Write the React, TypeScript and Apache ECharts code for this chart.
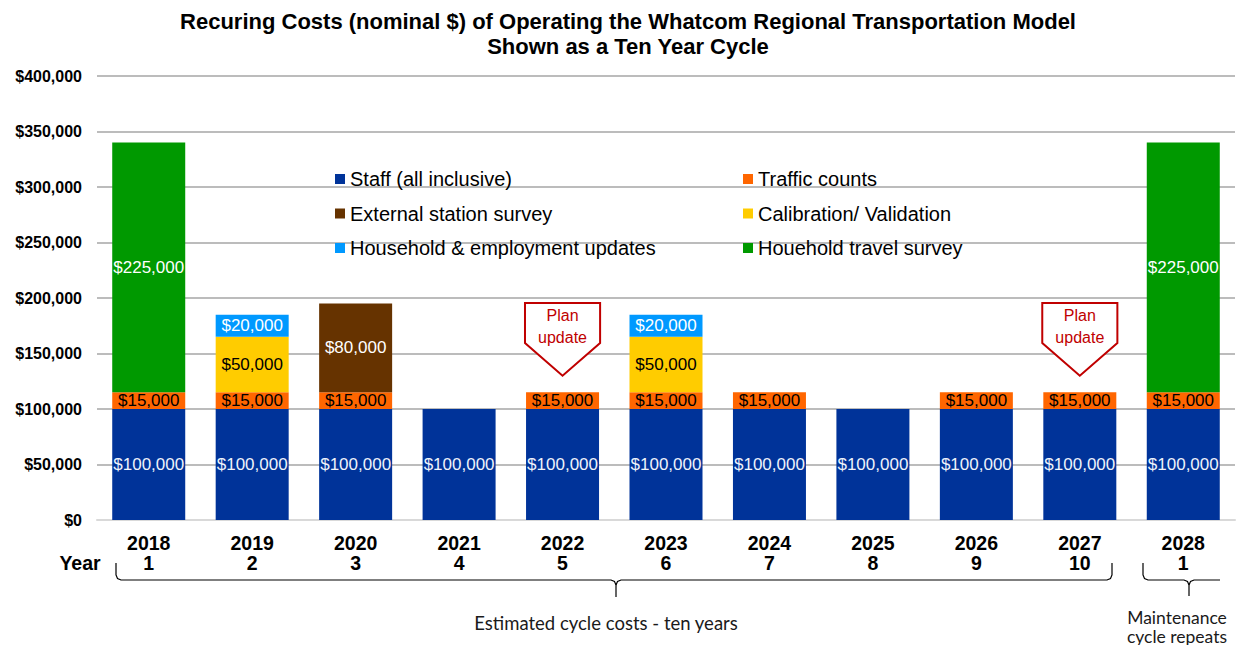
import React, { useEffect, useRef } from "react";
import * as echarts from "echarts";

const years = ["2018", "2019", "2020", "2021", "2022", "2023", "2024", "2025", "2026", "2027", "2028"];
const cycleYears = ["1", "2", "3", "4", "5", "6", "7", "8", "9", "10", "1"];

const staff = [100000, 100000, 100000, 100000, 100000, 100000, 100000, 100000, 100000, 100000, 100000];
const traffic = [15000, 15000, 15000, null, 15000, 15000, 15000, null, 15000, 15000, 15000];
const externalSurvey = [null, null, 80000, null, null, null, null, null, null, null, null];
const calibration = [null, 50000, null, null, null, 50000, null, null, null, null, null];
const hhUpdates = [null, 20000, null, null, null, 20000, null, null, null, null, null];
const travelSurvey = [225000, null, null, null, null, null, null, null, null, null, 225000];

const planUpdateYears = ["2022", "2027"];

const FONT = "'Liberation Sans', Arial, sans-serif";
const CAL = "Lato, 'Open Sans', sans-serif";

const fmt = (v: any) => (v == null || v === "-" ? "" : "$" + Number(v).toLocaleString("en-US"));

function barSeries(name: string, data: (number | null)[], color: string, labelColor: string) {
  return {
    name,
    type: "bar",
    stack: "total",
    barWidth: 73,
    data,
    itemStyle: { color },
    label: {
      show: true,
      position: "inside",
      formatter: (p: any) => fmt(p.value),
      color: labelColor,
      fontSize: 17,
      fontFamily: FONT,
    },
    emphasis: { disabled: true },
  };
}

export default function App() {
  const ref = useRef<HTMLDivElement>(null);
  useEffect(() => {
    if (!ref.current) return;
    const chart = echarts.init(ref.current, null, { renderer: "svg" });
    const legendCommon = {
      orient: "vertical",
      top: 169,
      itemWidth: 10,
      itemHeight: 10,
      itemGap: 14.5,
      icon: "rect",
      selectedMode: false,
      textStyle: { fontSize: 20, lineHeight: 20, color: "#000", fontFamily: FONT },
      padding: 0,
    };
    chart.setOption({
      animation: false,
      legend: [
        { ...legendCommon, left: 335, data: ["Staff (all inclusive)", "External station survey", "Household & employment updates"] },
        { ...legendCommon, left: 743, data: ["Traffic counts", "Calibration/ Validation", "Houehold travel survey"] },
      ],
      grid: { left: 97, right: 2, top: 76, bottom: 125, containLabel: false },
      xAxis: {
        type: "category",
        data: years,
        axisTick: { show: false },
        axisLine: { lineStyle: { color: "#D9D9D9", width: 2 } },
        axisLabel: {
          interval: 0,
          margin: 13,
          formatter: (v: string, i: number) => v + "\n" + cycleYears[i],
          fontSize: 19.5,
          fontWeight: "bold",
          lineHeight: 20,
          color: "#000",
          fontFamily: FONT,
        },
      },
      yAxis: {
        type: "value",
        min: 0,
        max: 400000,
        interval: 50000,
        axisLine: { show: false },
        axisTick: { show: false },
        splitLine: { lineStyle: { color: "#A6A6A6", width: 1.5 } },
        axisLabel: {
          margin: 15,
          formatter: (v: number) => "$" + v.toLocaleString("en-US"),
          fontSize: 16,
          fontWeight: "bold",
          color: "#000",
          fontFamily: FONT,
        },
      },
      series: [
        barSeries("Staff (all inclusive)", staff, "#003399", "#EEF2FA"),
        barSeries("Traffic counts", traffic, "#FF6600", "#000"),
        barSeries("External station survey", externalSurvey, "#663300", "#FFFFFF"),
        barSeries("Calibration/ Validation", calibration, "#FFCC00", "#000"),
        barSeries("Household & employment updates", hhUpdates, "#0099FF", "#FFFFFF"),
        barSeries("Houehold travel survey", travelSurvey, "#009900", "#FFFFFF"),
        {
          name: "Plan update",
          type: "custom",
          z: 10,
          data: planUpdateYears.map((y) => [years.indexOf(y), 0]),
          encode: { x: 0, y: 1 },
          renderItem: (params: any, api: any) => {
            const idx = api.value(0);
            const top = api.coord([idx, 195500]);
            const shoulder = api.coord([idx, 159500]);
            const tip = api.coord([idx, 130000]);
            const hw = api.size([1, 0])[0] * 0.363;
            const cx = top[0];
            return {
              type: "group",
              children: [
                {
                  type: "polygon",
                  shape: {
                    points: [
                      [cx - hw, top[1]],
                      [cx + hw, top[1]],
                      [cx + hw, shoulder[1]],
                      [cx, tip[1]],
                      [cx - hw, shoulder[1]],
                    ],
                  },
                  style: { fill: "#FFFFFF", stroke: "#C00000", lineWidth: 2 },
                },
                {
                  type: "text",
                  x: cx,
                  y: top[1] + 2,
                  style: {
                    text: "Plan\nupdate",
                    textAlign: "center",
                    textVerticalAlign: "top",
                    fontSize: 16,
                    lineHeight: 22,
                    fontFamily: FONT,
                    fill: "#C00000",
                  },
                },
              ],
            };
          },
        },
      ],
      graphic: [
        {
          type: "text",
          x: 628,
          y: 8.5,
          style: {
            text:
              "Recuring Costs (nominal $) of Operating the Whatcom Regional Transportation Model\nShown as a Ten Year Cycle",
            textAlign: "center",
            textVerticalAlign: "top",
            fontSize: 22,
            lineHeight: 25,
            fontWeight: "bold",
            fontFamily: FONT,
            fill: "#000",
          },
        },
        {
          type: "text",
          x: 80,
          y: 563,
          style: {
            text: "Year",
            textAlign: "center",
            textVerticalAlign: "middle",
            fontSize: 19.5,
            fontWeight: "bold",
            fontFamily: FONT,
            fill: "#000",
          },
        },
        {
          type: "polyline",
          shape: {
            points: [
              [116, 563], [116, 575], [117.5, 578.5], [121, 580], [611, 580], [614.5, 581.5], [616, 585], [616, 597],
            ],
          },
          style: { stroke: "#000", lineWidth: 1.2, fill: "none" },
        },
        {
          type: "polyline",
          shape: {
            points: [
              [616, 585], [617.5, 581.5], [621, 580], [1107, 580], [1110.5, 578.5], [1112, 575], [1112, 563],
            ],
          },
          style: { stroke: "#000", lineWidth: 1.2, fill: "none" },
        },
        {
          type: "polyline",
          shape: {
            points: [
              [1143, 563], [1143, 575], [1144.5, 578.5], [1148, 580], [1184, 580], [1187.5, 581.5], [1189, 585], [1189, 596],
            ],
          },
          style: { stroke: "#000", lineWidth: 1.2, fill: "none" },
        },
        {
          type: "polyline",
          shape: {
            points: [
              [1189, 585], [1190.5, 581.5], [1194, 580], [1220, 580],
            ],
          },
          style: { stroke: "#000", lineWidth: 1.2, fill: "none" },
        },
        {
          type: "text",
          x: 606,
          y: 623,
          style: {
            text: "Estimated cycle costs - ten years",
            textAlign: "center",
            textVerticalAlign: "middle",
            fontSize: 18.5,
            fontFamily: CAL,
            fill: "#1a1a1a",
          },
        },
        {
          type: "text",
          x: 1177,
          y: 617,
          style: {
            text: "Maintenance",
            textAlign: "center",
            textVerticalAlign: "middle",
            fontSize: 17.5,
            fontFamily: CAL,
            fill: "#1a1a1a",
          },
        },
        {
          type: "text",
          x: 1177,
          y: 636,
          style: {
            text: "cycle repeats",
            textAlign: "center",
            textVerticalAlign: "middle",
            fontSize: 17.5,
            fontFamily: CAL,
            fill: "#1a1a1a",
          },
        },
      ],
    });
    return () => chart.dispose();
  }, []);
  return (
    <div
      ref={ref}
      style={{ position: "fixed", left: 0, top: 0, width: 1237, height: 645, background: "#fff" }}
    />
  );
}
